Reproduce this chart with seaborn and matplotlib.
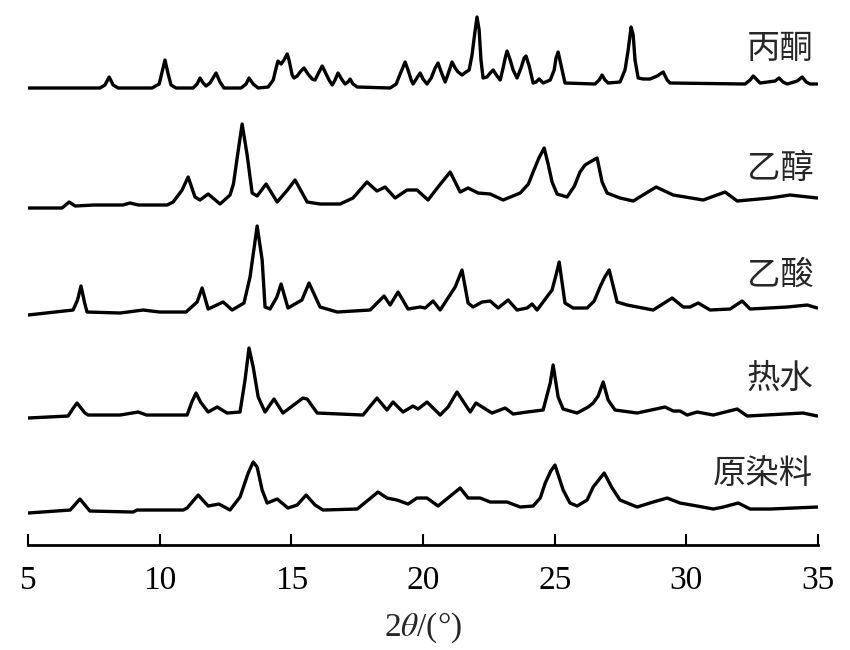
import matplotlib
matplotlib.use("Agg")
import matplotlib.pyplot as plt
import pandas as pd
import seaborn as sns

sns.set_theme(style="white")
plt.rcParams["font.family"] = ["Liberation Serif", "Noto Sans CJK SC", "DejaVu Sans"]
plt.rcParams["mathtext.fontset"] = "stix"

# XRD traces: 2theta (deg) and intensity (a.u., above each trace's baseline)
acetone_x = [5.00, 7.73, 7.92, 8.08, 8.23, 8.42, 9.71, 9.98, 10.09, 10.20, 10.32, 10.43, 10.62, 11.27, 11.42,
             11.53, 11.65, 11.76, 11.91, 12.14, 12.29, 12.44, 13.09, 13.28, 13.39, 13.55, 13.74, 14.12, 14.31,
             14.42, 14.49, 14.61, 14.72, 14.84, 14.91, 15.03, 15.10, 15.22, 15.33, 15.48, 15.63, 15.79, 15.90,
             16.05, 16.17, 16.28, 16.43, 16.55, 16.66, 16.77, 16.93, 17.04, 17.15, 17.23, 17.34, 17.50, 18.75,
             18.98, 19.13, 19.32, 19.43, 19.55, 19.62, 19.77, 19.89, 20.00, 20.15, 20.31, 20.46, 20.57, 20.69,
             20.84, 20.95, 21.10, 21.22, 21.33, 21.48, 21.63, 21.75, 21.86, 21.98, 22.05, 22.13, 22.20, 22.28,
             22.43, 22.55, 22.66, 22.81, 22.93, 23.04, 23.12, 23.19, 23.31, 23.42, 23.57, 23.72, 23.84, 23.91,
             24.03, 24.18, 24.29, 24.41, 24.56, 24.83, 24.98, 25.05, 25.13, 25.24, 25.39, 26.53, 26.69, 26.80,
             26.91, 27.03, 27.48, 27.67, 27.79, 27.90, 27.98, 28.05, 28.17, 28.36, 28.62, 28.89, 29.12, 29.27,
             29.38, 32.23, 32.42, 32.54, 32.69, 32.80, 33.37, 33.52, 33.67, 33.83, 34.21, 34.40, 34.55, 34.70,
             34.97]
acetone_y = [0, 0, 3, 11, 3, 0, 0, 4, 16, 28, 14, 3, 0, 0, 4,
             10, 5, 2, 5, 15, 6, 0, 0, 4, 10, 4, 0, 1, 8,
             20, 27, 24, 28, 34, 28, 13, 10, 12, 16, 20, 14, 9, 8,
             16, 22, 16, 8, 3, 8, 15, 8, 4, 6, 9, 4, 1, 0,
             4, 14, 26, 18, 8, 4, 10, 15, 9, 4, 10, 20, 25, 16,
             6, 14, 26, 20, 16, 13, 16, 18, 33, 58, 71, 58, 28, 10,
             11, 15, 18, 12, 8, 20, 30, 37, 28, 18, 10, 20, 30, 32,
             22, 5, 6, 9, 5, 8, 18, 30, 36, 23, 5, 4, 8, 13,
             8, 5, 6, 18, 38, 61, 53, 28, 10, 9, 9, 12, 16, 8,
             5, 4, 8, 12, 8, 5, 7, 10, 6, 4, 7, 11, 6, 4,
             4]

ethanol_x = [5.00, 6.29, 6.56, 6.79, 7.50, 8.60, 8.87, 9.20, 10.28, 10.51, 10.85, 11.08, 11.34, 11.53, 11.84,
             12.29, 12.67, 12.80, 12.94, 13.13, 13.32, 13.51, 13.70, 14.04, 14.46, 14.85, 15.14, 15.60, 16.09,
             16.85, 17.34, 17.87, 18.25, 18.56, 18.94, 19.39, 19.77, 20.19, 20.57, 21.03, 21.41, 21.71, 22.09,
             22.55, 23.04, 23.69, 24.00, 24.18, 24.40, 24.60, 24.75, 24.90, 25.09, 25.47, 25.75, 25.96, 26.15,
             26.34, 26.61, 26.80, 26.99, 27.48, 27.98, 28.85, 29.50, 30.64, 31.47, 31.93, 33.18, 33.94, 34.97]
ethanol_y = [0, 0, 6, 2, 3, 3, 5, 3, 3, 6, 18, 31, 11, 8, 14,
             4, 13, 24, 50, 84, 53, 15, 12, 24, 6, 18, 28, 6, 4,
             4, 10, 26, 17, 21, 10, 18, 18, 8, 21, 36, 16, 20, 15,
             14, 8, 15, 24, 36, 50, 60, 44, 26, 14, 11, 22, 36, 43,
             46, 50, 26, 15, 10, 7, 21, 13, 8, 16, 7, 10, 13, 10]

acetic_x = [5.00, 6.71, 6.88, 7.01, 7.15, 7.24, 8.50, 9.37, 10.00, 11.00, 11.42, 11.61, 11.84, 12.41, 12.75,
            13.20, 13.43, 13.70, 13.89, 14.00, 14.19, 14.45, 14.61, 14.87, 15.40, 15.67, 16.09, 16.74, 17.99,
            18.52, 18.75, 19.05, 19.43, 19.89, 20.08, 20.38, 20.65, 21.22, 21.48, 21.71, 21.90, 22.24, 22.55,
            22.85, 23.23, 23.57, 23.95, 24.14, 24.33, 24.90, 25.05, 25.17, 25.39, 25.70, 26.23, 26.50, 26.72,
            26.90, 27.07, 27.37, 27.75, 28.74, 29.46, 29.88, 30.14, 30.45, 30.90, 31.66, 32.12, 32.42, 33.83,
            34.59, 34.97]
acetic_y = [0, 5, 15, 29, 12, 3, 2, 5, 3, 3, 13, 27, 6, 13, 5,
            12, 38, 89, 55, 8, 6, 18, 31, 7, 15, 32, 8, 3, 5,
            19, 10, 23, 6, 8, 7, 14, 5, 28, 45, 12, 8, 13, 14,
            7, 15, 5, 7, 11, 5, 25, 40, 53, 12, 7, 7, 14, 28,
            38, 45, 13, 10, 5, 17, 8, 8, 12, 5, 6, 14, 6, 8,
            10, 7]

hotwater_x = [5.00, 6.52, 6.72, 6.86, 7.16, 7.28, 8.50, 9.18, 9.50, 11.04, 11.22, 11.38, 11.55, 11.84, 12.18,
              12.56, 13.05, 13.24, 13.39, 13.55, 13.74, 14.00, 14.34, 14.68, 15.44, 15.60, 15.98, 17.72, 18.25,
              18.63, 18.86, 19.24, 19.62, 19.81, 20.15, 20.65, 20.95, 21.29, 21.79, 22.01, 22.43, 22.62, 23.12,
              23.42, 23.95, 24.56, 24.83, 24.94, 25.13, 25.32, 25.85, 26.27, 26.46, 26.65, 26.84, 27.03, 27.29,
              28.13, 29.19, 29.50, 29.76, 30.03, 30.41, 31.02, 31.93, 32.31, 34.43, 34.97]
hotwater_y = [0, 2, 10, 15, 5, 3, 3, 6, 3, 3, 16, 25, 16, 6, 11,
              5, 6, 38, 70, 51, 21, 6, 19, 5, 20, 19, 5, 3, 20,
              8, 16, 6, 12, 9, 16, 3, 11, 26, 6, 15, 8, 5, 10,
              4, 6, 8, 35, 53, 21, 9, 5, 11, 15, 22, 36, 18, 8,
              5, 11, 7, 7, 3, 6, 3, 9, 2, 5, 2]

raw_x = [5.00, 6.60, 6.97, 7.35, 8.99, 9.14, 10.89, 11.04, 11.46, 11.84, 12.25, 12.67, 13.05, 13.36, 13.55,
         13.70, 13.89, 14.08, 14.46, 14.87, 15.22, 15.56, 15.90, 16.20, 17.50, 18.29, 18.63, 19.01, 19.43,
         19.77, 20.15, 20.57, 21.41, 21.71, 22.17, 22.55, 23.19, 23.69, 24.18, 24.45, 24.64, 24.85, 25.01,
         25.32, 25.58, 25.85, 26.23, 26.46, 26.70, 26.88, 27.18, 27.48, 28.13, 28.74, 29.27, 29.76, 30.41,
         31.02, 31.40, 31.97, 32.42, 33.18, 34.97]
raw_y = [0, 3, 14, 2, 1, 3, 3, 5, 18, 7, 9, 3, 16, 40, 51,
         46, 23, 10, 14, 5, 8, 18, 8, 3, 4, 21, 15, 13, 9,
         15, 15, 7, 25, 15, 15, 11, 11, 6, 7, 15, 30, 42, 48,
         23, 10, 7, 13, 26, 34, 40, 25, 13, 6, 11, 15, 10, 7,
         4, 6, 10, 4, 4, 6]

names = ["丙酮", "乙醇", "乙酸", "热水", "原染料"]
offsets = [457, 337, 230, 127, 32]
traces = [(acetone_x, acetone_y), (ethanol_x, ethanol_y), (acetic_x, acetic_y),
          (hotwater_x, hotwater_y), (raw_x, raw_y)]

fig = plt.figure(figsize=(8.5, 6.5), dpi=100)
ax = fig.add_axes([0.033, 0.1615, 0.9294, 0.8308])

for name, off, (tx, ty) in zip(names, offsets, traces):
    df = pd.DataFrame({"two_theta": tx, "intensity": [v + off for v in ty]})
    sns.lineplot(data=df, x="two_theta", y="intensity", ax=ax, color="black", lw=2.4,
                 solid_joinstyle="round")
    ax.text(34.82, off + 40, name, ha="right", va="center", fontsize=24,
            family=["Noto Sans CJK SC", "DejaVu Sans"])

ax.set_xlim(5, 35)
ax.set_ylim(0, 540)
ax.set_xticks([5, 10, 15, 20, 25, 30, 35])
ax.set_yticks([])
for s in ["left", "right", "top"]:
    ax.spines[s].set_visible(False)
ax.spines["bottom"].set_linewidth(2.0)
ax.spines["bottom"].set_color("black")
ax.tick_params(axis="x", direction="in", length=8, width=1.5, pad=15,
               labelsize=24, colors="black", bottom=True)
ax.set_xlabel(r"2$\theta$/(°)", fontsize=24, labelpad=10)
ax.set_ylabel("")

plt.savefig("out.png", dpi=100)
plt.close()
